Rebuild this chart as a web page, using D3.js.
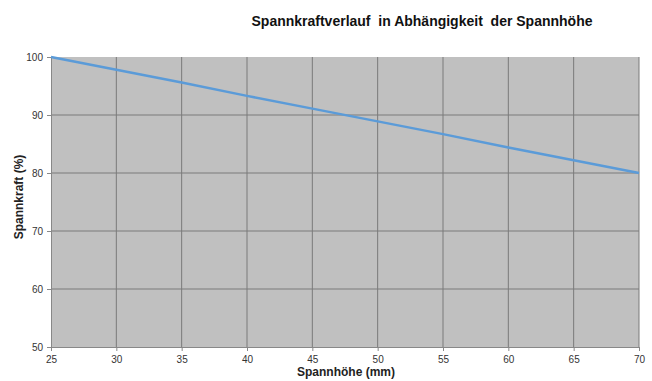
<!DOCTYPE html>
<html><head><meta charset="utf-8">
<script src="https://cdn.jsdelivr.net/npm/d3@7"></script>
<style>body{margin:0;background:#fff;}svg{display:block;} text.pre{white-space:pre;}</style>
</head><body><svg id="c" width="652" height="381"></svg>
<script>
const heights = [25, 30, 35, 40, 45, 50, 55, 60, 65, 70];
const force = [100, 97.8, 95.6, 93.3, 91.1, 88.9, 86.7, 84.4, 82.2, 80];
const xTicks = [25, 30, 35, 40, 45, 50, 55, 60, 65, 70];
const yTicks = [50, 60, 70, 80, 90, 100];
const title = "Spannkraftverlauf  in Abhängigkeit  der Spannhöhe";
const xLabel = "Spannhöhe (mm)";
const yLabel = "Spannkraft (%)";

const svg = d3.select("#c");
const L = 51, R = 639, T = 57, B = 347;
const x = d3.scaleLinear().domain([25, 70]).range([L, R]);
const y = d3.scaleLinear().domain([50, 100]).range([B, T]);
const font = "Arial, 'Liberation Sans', sans-serif";

svg.append("rect").attr("x", L).attr("y", T).attr("width", R - L).attr("height", B - T).attr("fill", "#c0c0c0");

// grid
svg.append("g").selectAll("line").data(xTicks.slice(1)).join("line")
  .attr("x1", d => x(d)).attr("x2", d => x(d)).attr("y1", T).attr("y2", B)
  .attr("stroke", "#7a7a7a").attr("stroke-width", 1);
svg.append("g").selectAll("line").data(yTicks.slice(1, -1)).join("line")
  .attr("x1", L).attr("x2", R).attr("y1", d => y(d)).attr("y2", d => y(d))
  .attr("stroke", "#7a7a7a").attr("stroke-width", 1);

// axes
const xa = svg.append("g").attr("transform", `translate(0,${B})`)
  .call(d3.axisBottom(x).tickValues(xTicks).tickSize(4).tickPadding(5).tickSizeOuter(0));
const ya = svg.append("g").attr("transform", `translate(${L},0)`)
  .call(d3.axisLeft(y).tickValues(yTicks).tickSize(4).tickPadding(4).tickSizeOuter(0));
[xa, ya].forEach(a => {
  a.select(".domain").attr("stroke", "#888");
  a.selectAll(".tick line").attr("stroke", "#888");
  a.selectAll("text").attr("font-family", font).attr("font-size", 10).attr("fill", "#333");
});

// line
svg.append("path").datum(heights.map((h, i) => [h, force[i]]))
  .attr("fill", "none").attr("stroke", "#5b9bd8").attr("stroke-width", 2.5)
  .attr("d", d3.line().x(d => x(d[0])).y(d => y(d[1])));

svg.append("text").attr("class", "pre").attr("x", 422).attr("y", 26).attr("text-anchor", "middle")
  .attr("font-family", font).attr("font-size", 14).attr("font-weight", "bold").attr("fill", "#111").text(title);
svg.append("text").attr("x", 346).attr("y", 376).attr("text-anchor", "middle")
  .attr("font-family", font).attr("font-size", 12).attr("font-weight", "bold").attr("fill", "#222").text(xLabel);
svg.append("text").attr("transform", "translate(23,197) rotate(-90)").attr("text-anchor", "middle")
  .attr("font-family", font).attr("font-size", 12).attr("font-weight", "bold").attr("fill", "#222").text(yLabel);
</script></body></html>
